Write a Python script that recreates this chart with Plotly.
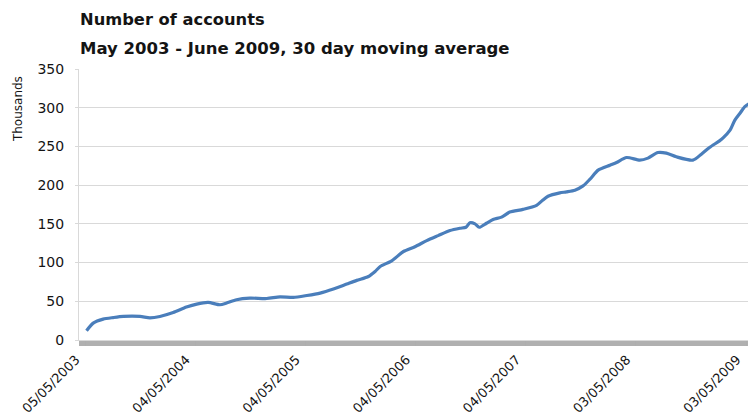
import plotly.graph_objects as go

# ---- data (30 day moving average, thousands of accounts) ----
dates = [
    "2003-05-10", "2003-06-01", "2003-07-04", "2003-08-07", "2003-09-09",
    "2003-11-03", "2003-12-06", "2004-01-08", "2004-02-21", "2004-04-05",
    "2004-05-09", "2004-06-16", "2004-07-25", "2004-08-16", "2004-09-18",
    "2004-11-01", "2004-12-27", "2005-02-09", "2005-03-25", "2005-05-09",
    "2005-06-22", "2005-08-05", "2005-09-18", "2005-10-21", "2005-11-29",
    "2005-12-21", "2006-01-07", "2006-02-14", "2006-03-25", "2006-05-02",
    "2006-06-10", "2006-07-18", "2006-08-26", "2006-09-28", "2006-10-18",
    "2006-10-31", "2006-11-17", "2006-12-01", "2006-12-25", "2007-01-16",
    "2007-02-13", "2007-03-12", "2007-04-25", "2007-06-09", "2007-06-29",
    "2007-07-17", "2007-08-25", "2007-09-16", "2007-10-14", "2007-11-10",
    "2007-12-03", "2007-12-30", "2008-02-07", "2008-02-29", "2008-04-02",
    "2008-05-16", "2008-06-12", "2008-07-15", "2008-08-12", "2008-09-14",
    "2008-11-08", "2008-12-06", "2009-01-02", "2009-02-04", "2009-02-16",
    "2009-03-11", "2009-03-27", "2009-04-13", "2009-04-29", "2009-05-16",
    "2009-06-05", "2009-06-15",
]
accounts = [
    12.0, 21.8, 27.0, 29.0, 30.4,
    30.4, 28.7, 30.4, 35.5, 42.5,
    46.4, 48.5, 45.5, 47.7, 52.0,
    54.0, 53.6, 55.8, 55.0, 57.5,
    60.6, 65.8, 72.2, 77.0, 82.0,
    88.5, 95.0, 102.2, 114.3, 120.5,
    128.3, 134.8, 141.3, 144.3, 145.6,
    151.4, 150.0, 145.6, 150.8, 155.7,
    158.7, 165.2, 168.7, 173.9, 180.4,
    185.6, 190.0, 191.3, 193.5, 199.0,
    207.7, 219.4, 225.8, 229.2, 235.7,
    232.3, 234.9, 242.1, 241.3, 236.6,
    232.3, 240.0, 248.6, 257.2, 261.0,
    271.0, 284.0, 292.8, 301.3, 305.7,
    307.8, 308.5,
]
tick_dates = ["2003-05-05", "2004-05-04", "2005-05-04", "2006-05-04",
              "2007-05-04", "2008-05-03", "2009-05-03"]
tick_labels = ["05/05/2003", "04/05/2004", "04/05/2005", "04/05/2006",
               "04/05/2007", "03/05/2008", "03/05/2009"]

FONT = "DejaVu Sans"
TXT = "#141414"

# the page body adds an 8px offset, so the figure is sized to fill the rest
fig = go.Figure()
fig.add_trace(go.Scatter(
    x=dates, y=accounts, mode="lines",
    line=dict(color="#4A7EBB", width=3.2, shape="spline", smoothing=0.7),
    hoverinfo="skip", showlegend=False,
))

fig.update_layout(
    width=748, height=407,
    margin=dict(l=71, r=0, t=61, b=75),
    paper_bgcolor="white", plot_bgcolor="white",
    font=dict(family=FONT, size=14, color=TXT),
    showlegend=False,
)

fig.update_xaxes(
    type="date", automargin=False,
    range=["2003-04-15", "2009-06-05"],
    tickmode="array", tickvals=tick_dates, ticktext=tick_labels,
    tickangle=-45, tickfont=dict(size=13),
    ticklabelshift=-9, ticklabelstandoff=1,
    showgrid=False, zeroline=False,
    showline=True, linecolor="#D9D9D9", linewidth=1,
    ticks="outside", ticklen=5, tickcolor="#AEAEAE",
    minor=dict(tickmode="linear", tick0="2003-05-05", dtick=86400000,
               ticks="outside", ticklen=5, tickcolor="#B0B0B0", tickwidth=1,
               showgrid=False),
)
fig.update_yaxes(
    automargin=False,
    range=[0, 350], dtick=50, tick0=0,
    tickfont=dict(size=14),
    showgrid=True, gridcolor="#D9D9D9", gridwidth=1,
    zeroline=False,
    showline=True, linecolor="#D9D9D9", linewidth=1,
    ticks="outside", ticklen=3, tickcolor="#D9D9D9",
    ticklabelstandoff=8,
)

fig.add_annotation(
    text="<b>Number of accounts</b>", xref="paper", yref="paper",
    x=0, y=1, xanchor="left", yanchor="middle", xshift=-1, yshift=50,
    showarrow=False, font=dict(size=16.3, family=FONT, color=TXT),
)
fig.add_annotation(
    text="<b>May 2003 - June 2009, 30 day moving average</b>", xref="paper", yref="paper",
    x=0, y=1, xanchor="left", yanchor="middle", xshift=-1, yshift=21,
    showarrow=False, font=dict(size=16.5, family=FONT, color=TXT),
)
fig.add_annotation(
    text="Thousands", xref="paper", yref="paper",
    x=0, y=0.852, xanchor="center", yanchor="middle", xshift=-61,
    textangle=-90, showarrow=False, font=dict(size=12, family=FONT, color=TXT),
)

fig.write_html("out.html", config={"displayModeBar": False})
